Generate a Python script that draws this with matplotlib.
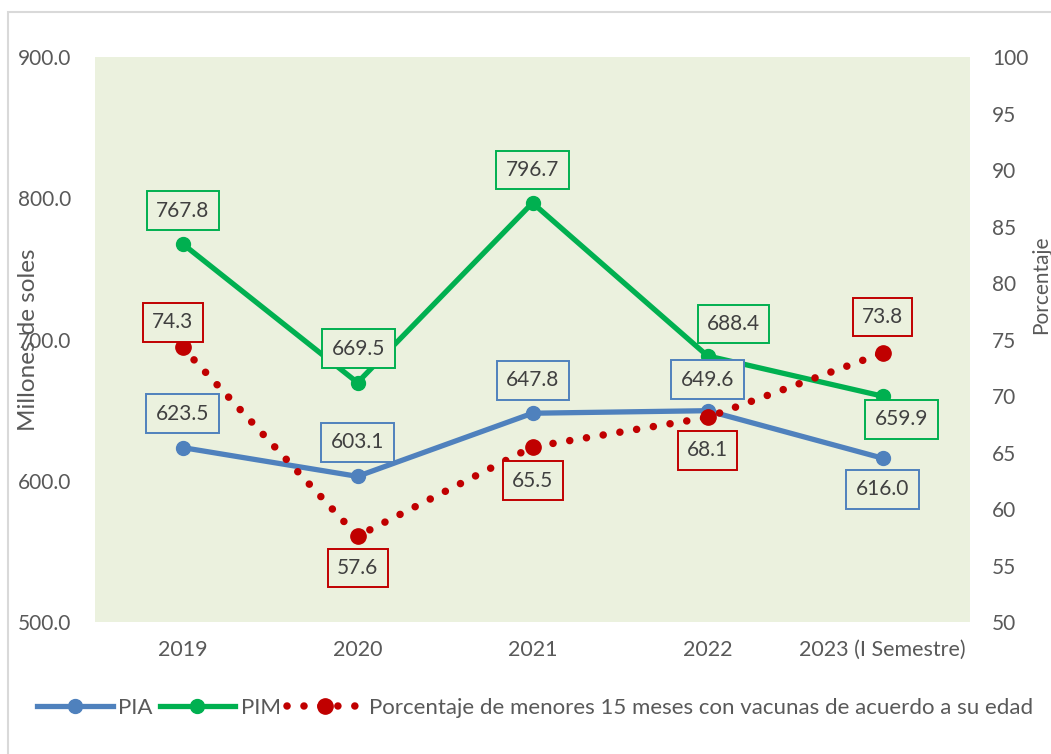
import matplotlib
matplotlib.use("Agg")
import matplotlib.pyplot as plt
from matplotlib.lines import Line2D
from matplotlib.patches import Rectangle

plt.rcParams['font.family'] = ['Lato', 'DejaVu Sans']

categories = ["2019", "2020", "2021", "2022", "2023 (I Semestre)"]
pia = [623.5, 603.1, 647.8, 649.6, 616.0]
pim = [767.8, 669.5, 796.7, 688.4, 659.9]
pct = [74.3, 57.6, 65.5, 68.1, 73.8]

# label offsets in pixels (dx, dy up)
pim_off = [(0, 33), (1, 34), (0, 33), (26, 32), (19, -23)]
pia_off = [(0, 34), (0, 34), (0, 33), (0, 31), (0, -31)]
pct_off = [(-10, 25), (0, -32), (0, -34), (0, -33), (0, 36)]

BLUE = "#4F81BD"
GREEN = "#00B050"
RED = "#C00000"
TXT = "#595959"
LBL = "#404040"
BG = "#EBF1DE"
W, H = 1051, 754

fig = plt.figure(figsize=(W/100, H/100), dpi=100)
ax = fig.add_axes([95/W, 1-622/H, 875/W, 565/H])
ax2 = ax.twinx()
ax.set_facecolor(BG)
ax.set_zorder(1)
ax2.set_zorder(2)
ax2.patch.set_visible(False)

x = list(range(len(categories)))
ax.set_xlim(-0.5, 4.5)
ax.set_ylim(500, 900)
ax2.set_ylim(50, 100)
lt = [500, 600, 700, 800, 900]
ax.set_yticks(lt)
ax.set_yticklabels([f"{v:.1f}" for v in lt])
ax2.set_yticks(range(50, 101, 5))
ax.set_xticks(x)
ax.set_xticklabels(categories)

for a in (ax, ax2):
    for s in a.spines.values():
        s.set_visible(False)
    a.tick_params(length=0, colors=TXT, labelsize=15)
ax.tick_params(axis='x', labelsize=15.5, pad=13)
ax.tick_params(axis='y', pad=17)
ax2.tick_params(axis='y', pad=16)

fig.text(29/W, 1-340/H, "Millones de soles", rotation=90, ha='center', va='center',
         fontsize=17.5, color=TXT)
fig.text(1041/W, 1-285/H, "Porcentaje", rotation=90, ha='center', va='center',
         fontsize=15, color=TXT)

dot = (0, (0.01, 2.25))
ax.plot(x, pia, color=BLUE, lw=3.8, marker='o', ms=10, zorder=3)
ax.plot(x, pim, color=GREEN, lw=3.8, marker='o', ms=10, zorder=3)
ax2.plot(x, pct, color=RED, lw=5.4, linestyle=dot, dash_capstyle='round',
         marker='o', ms=11, zorder=3)

def labels(axis, vals, offs, color):
    for xi, v, (dx, dy) in zip(x, vals, offs):
        axis.annotate(f"{v:.1f}", (xi, v), xytext=(dx, dy), textcoords='offset pixels',
                      ha='center', va='center', fontsize=15, color=LBL, zorder=5,
                      bbox=dict(boxstyle='square,pad=0.45', fc=BG, ec=color, lw=1.4))

labels(ax, pim, pim_off, GREEN)
labels(ax, pia, pia_off, BLUE)
labels(ax2, pct, pct_off, RED)

handles = [
    Line2D([], [], color=BLUE, lw=3.8, marker='o', ms=10),
    Line2D([], [], color=GREEN, lw=3.8, marker='o', ms=10),
    Line2D([], [], color=RED, lw=5.4, linestyle=dot, dash_capstyle='round',
           marker='o', ms=11),
]
fig.legend(handles, ["PIA", "PIM", "Porcentaje de menores 15 meses con vacunas de acuerdo a su edad"],
           loc='center', bbox_to_anchor=(535/W, 1-708/H), ncol=3, frameon=False,
           fontsize=16, handlelength=3.4, columnspacing=0.3, handletextpad=0.25,
           labelcolor=TXT, borderpad=0)

fig.patches.append(Rectangle((8/W, -0.1), 1.2, 1 - 12/H + 0.1, transform=fig.transFigure,
                             fill=False, ec="#D9D9D9", lw=1.5))

fig.savefig("out.png", dpi=100, facecolor='white')
